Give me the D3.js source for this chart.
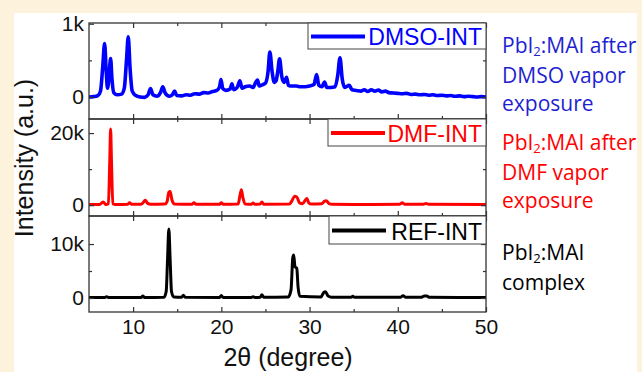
<!DOCTYPE html>
<html><head><meta charset="utf-8">
<script src="https://cdn.jsdelivr.net/npm/d3@7"></script>
<style>
html,body{margin:0;padding:0;background:#FDF3DC;}
svg{display:block;}
</style></head>
<body>
<svg id="chart" width="642" height="372"></svg>
<script>
// ---- data (2θ in degrees, intensity in counts) ----
const xMajorTicks = [10, 20, 30, 40, 50];
const xMinorTicks = [15, 25, 35, 45];

const dmsoPattern = [
 [5.0,0],[5.5,5],[6.0,20],[6.3,80],[6.55,400],[6.77,730],[6.95,350],[7.1,120],[7.25,250],[7.45,525],[7.6,250],[7.8,60],
 [8.2,30],[8.7,40],[9.0,120],[9.25,500],[9.45,820],[9.65,400],[9.9,80],[10.3,20],[10.8,0],[11.3,-5],[11.7,30],[11.97,115],
 [12.25,30],[12.7,10],[13.1,60],[13.37,140],[13.65,50],[14.1,10],[14.45,30],[14.7,80],[14.95,20],[15.5,15],[16,30],[16.5,25],
 [17,45],[17.5,40],[18,60],[18.5,55],[19,75],[19.5,90],[19.8,140],[19.96,240],[20.15,120],[20.5,90],[21.0,110],[21.2,180],
 [21.4,100],[21.8,130],[22.1,220],[22.35,120],[22.7,140],[23.2,150],[23.6,130],[23.9,200],[24.1,230],[24.3,150],[24.7,170],
 [25.0,190],[25.3,350],[25.5,615],[25.75,350],[26.0,200],[26.2,220],[26.4,350],[26.6,520],[26.85,280],[27.1,200],[27.4,270],
 [27.6,160],[28.0,150],[28.5,150],[29.0,140],[29.5,140],[30.0,150],[30.5,170],[30.8,305],[31.05,160],[31.4,140],[31.7,205],
 [31.95,130],[32.4,130],[32.9,140],[33.2,300],[33.45,535],[33.7,250],[34.0,130],[34.5,160],[34.8,100],[35.3,90],[35.8,80],
 [36.2,100],[36.6,75],[37.0,100],[37.4,80],[37.8,95],[38.2,70],[38.6,80],[39.0,60],[39.5,55],[40,50],[40.5,45],[41,50],
 [41.5,35],[42,40],[42.5,30],[43,35],[43.5,25],[44,30],[44.5,20],[45,25],[45.5,15],[46,20],[46.5,10],[47,15],[47.5,5],
 [48,10],[48.5,5],[49,0],[49.5,5],[50,0]
];

const dmfPattern = [
 [5,200],[6.2,200],[6.6,900],[6.9,200],[7.2,400],[7.35,12000],[7.45,21100],[7.55,12000],[7.7,400],[8.0,200],[9.4,250],
 [9.6,700],[9.8,250],[10.8,250],[11.1,600],[11.37,1400],[11.65,500],[12.0,250],[13.6,300],[13.85,1000],[14.05,3600],
 [14.2,3800],[14.4,1500],[14.7,300],[16.7,250],[16.9,700],[17.1,250],[19.8,250],[20.0,650],[20.2,250],[21.9,300],
 [22.1,2500],[22.27,4300],[22.45,2000],[22.7,300],[23.4,250],[23.6,600],[23.8,250],[24.4,300],[24.6,900],[24.8,250],
 [27.7,300],[28.0,1200],[28.3,2500],[28.55,2300],[28.85,700],[29.2,400],[29.55,1500],[29.7,1850],[29.9,700],[30.2,300],
 [31.4,400],[31.7,1100],[31.9,1200],[32.2,450],[32.6,250],[35,200],[40.2,250],[40.5,650],[40.8,250],[42.9,250],
 [43.2,450],[43.5,250],[50,200]
];

const refPattern = [
 [5,100],[6.8,100],[7.0,250],[7.2,100],[10.9,100],[11.1,370],[11.3,100],[13.5,150],[13.75,1200],[13.9,7000],[14.05,12800],
 [14.2,7000],[14.35,1200],[14.6,200],[15.5,150],[15.7,500],[15.9,150],[19.8,100],[20.0,450],[20.2,100],[23.4,100],
 [23.6,250],[23.8,100],[24.4,150],[24.6,580],[24.8,150],[27.6,200],[27.9,1500],[28.1,7500],[28.2,7950],[28.35,5800],
 [28.55,5500],[28.7,2000],[28.9,300],[31.3,200],[31.6,1000],[31.8,1170],[32.1,350],[32.5,150],[34.7,120],[34.9,300],
 [35.1,120],[40.3,120],[40.6,430],[40.9,120],[42.7,150],[43.0,380],[43.3,350],[43.6,120],[50,100]
];

const seriesNames = ["DMSO-INT", "DMF-INT", "REF-INT"];
const seriesColors = ["#0000FF", "#FF0000", "#000000"];
const yMajorTicks = [[0, 1000], [0, 20000], [0, 10000]];
const yMinorTicks = [[500], [10000], [5000]];
const yDomains = [[-300, 1010], [-3000, 23900], [-2600, 15200]];
const yTickLabels = [["0", "1k"], ["0", "20k"], ["0", "10k"]];

const noteLines = [
  [["PbI", "2", ":MAI after"], ["DMSO vapor"], ["exposure"]],
  [["PbI", "2", ":MAI after"], ["DMF vapor"], ["exposure"]],
  [["PbI", "2", ":MAI"], ["complex"]]
];
const noteColors = ["#1F1FD2", "#FF0000", "#000000"];

// ---- layout ----
const svg = d3.select("#chart");
svg.append("rect").attr("x", 14).attr("y", 13).attr("width", 623).attr("height", 359).attr("fill", "#ffffff");

const left = 89, right = 486;
const panelTops = [23, 119, 216];
const panelBottoms = [119, 216, 312];
const x = d3.scaleLinear().domain([5, 50]).range([left, right]);
const patterns = [dmsoPattern, dmfPattern, refPattern];
const lineWidths = [3.6, 3, 3];
const legendBoxes = [[308, 26], [328, 27], [329, 28]];
const font = "'Liberation Sans', Arial, sans-serif";

patterns.forEach((data, i) => {
  const top = panelTops[i], bot = panelBottoms[i];
  const y = d3.scaleLinear().domain(yDomains[i]).range([bot, top]);
  const g = svg.append("g");

  g.append("clipPath").attr("id", "clip" + i)
    .append("rect").attr("x", left).attr("y", top).attr("width", right - left).attr("height", bot - top);

  const line = d3.line().x(d => x(d[0])).y(d => y(d[1])).curve(d3.curveMonotoneX);
  g.append("path").datum(data)
    .attr("clip-path", "url(#clip" + i + ")")
    .attr("fill", "none").attr("stroke", seriesColors[i])
    .attr("stroke-width", lineWidths[i]).attr("stroke-linejoin", "round")
    .attr("d", line);

  // axes (ticks inward)
  const styleAxis = sel => {
    sel.select(".domain").remove();
    sel.selectAll("line").attr("stroke", "#333").attr("stroke-width", 1.2);
    sel.selectAll("text").attr("font-family", font).attr("font-size", 21).attr("fill", "#111");
  };
  g.append("g").attr("transform", `translate(${left},0)`)
    .call(d3.axisLeft(y).tickValues(yMajorTicks[i]).tickSize(-5).tickPadding(5)
      .tickFormat((d, k) => yTickLabels[i][k])).call(styleAxis);
  g.append("g").attr("transform", `translate(${left},0)`)
    .call(d3.axisLeft(y).tickValues(yMinorTicks[i]).tickSize(-3).tickFormat("")).call(styleAxis);
  g.append("g").attr("transform", `translate(${right},0)`)
    .call(d3.axisRight(y).tickValues(yMajorTicks[i]).tickSize(-5).tickFormat("")).call(styleAxis);
  g.append("g").attr("transform", `translate(${right},0)`)
    .call(d3.axisRight(y).tickValues(yMinorTicks[i]).tickSize(-3).tickFormat("")).call(styleAxis);

  const bottomAxis = d3.axisBottom(x).tickValues(xMajorTicks).tickSize(-5).tickPadding(7);
  if (i < 2) bottomAxis.tickFormat("");
  g.append("g").attr("transform", `translate(0,${bot})`).call(bottomAxis).call(styleAxis);
  g.append("g").attr("transform", `translate(0,${bot})`)
    .call(d3.axisBottom(x).tickValues(xMinorTicks).tickSize(-3).tickFormat("")).call(styleAxis);
  g.append("g").attr("transform", `translate(0,${top})`)
    .call(d3.axisTop(x).tickValues(xMajorTicks).tickSize(-5).tickFormat("")).call(styleAxis);
  g.append("g").attr("transform", `translate(0,${top})`)
    .call(d3.axisTop(x).tickValues(xMinorTicks).tickSize(-3).tickFormat("")).call(styleAxis);

  // frame
  g.append("rect").attr("x", left).attr("y", top).attr("width", right - left).attr("height", bot - top)
    .attr("fill", "none").attr("stroke", "#333").attr("stroke-width", 1.3);

  // legend
  const [lx, lh] = legendBoxes[i];
  const lg = g.append("g");
  lg.append("rect").attr("x", lx).attr("y", top).attr("width", right - lx).attr("height", lh)
    .attr("fill", "#fff").attr("stroke", "#444").attr("stroke-width", 1);
  lg.append("line").attr("x1", lx + 3).attr("x2", lx + 57).attr("y1", top + lh / 2 + 0.5).attr("y2", top + lh / 2 + 0.5)
    .attr("stroke", seriesColors[i]).attr("stroke-width", 4);
  lg.append("text").attr("x", right - 4).attr("y", top + lh - 4.5).attr("text-anchor", "end")
    .attr("font-family", font).attr("font-size", 23).attr("fill", seriesColors[i]).text(seriesNames[i]);
});

// axis titles
svg.append("text").attr("x", 288).attr("y", 366).attr("text-anchor", "middle")
  .attr("font-family", font).attr("font-size", 25).attr("fill", "#111").text("2θ (degree)");
svg.append("text").attr("transform", "translate(33,158) rotate(-90)").attr("text-anchor", "middle")
  .attr("font-family", font).attr("font-size", 25).attr("fill", "#111").text("Intensity (a.u.)");

// side notes
const noteBaselines = [[53, 83, 111], [150, 180, 208], [260, 290]];
noteLines.forEach((lines, i) => {
  lines.forEach((parts, j) => {
    const t = svg.append("text").attr("x", 502).attr("y", noteBaselines[i][j])
      .attr("font-family", "'Open Sans', 'Noto Sans', sans-serif").attr("font-size", 21).attr("fill", noteColors[i]);
    if (parts.length === 1) { t.text(parts[0]); }
    else {
      t.append("tspan").text(parts[0]);
      t.append("tspan").attr("font-size", 13).attr("baseline-shift", "-3").text(parts[1]);
      t.append("tspan").text(parts[2]);
    }
  });
});
</script>
</body></html>
